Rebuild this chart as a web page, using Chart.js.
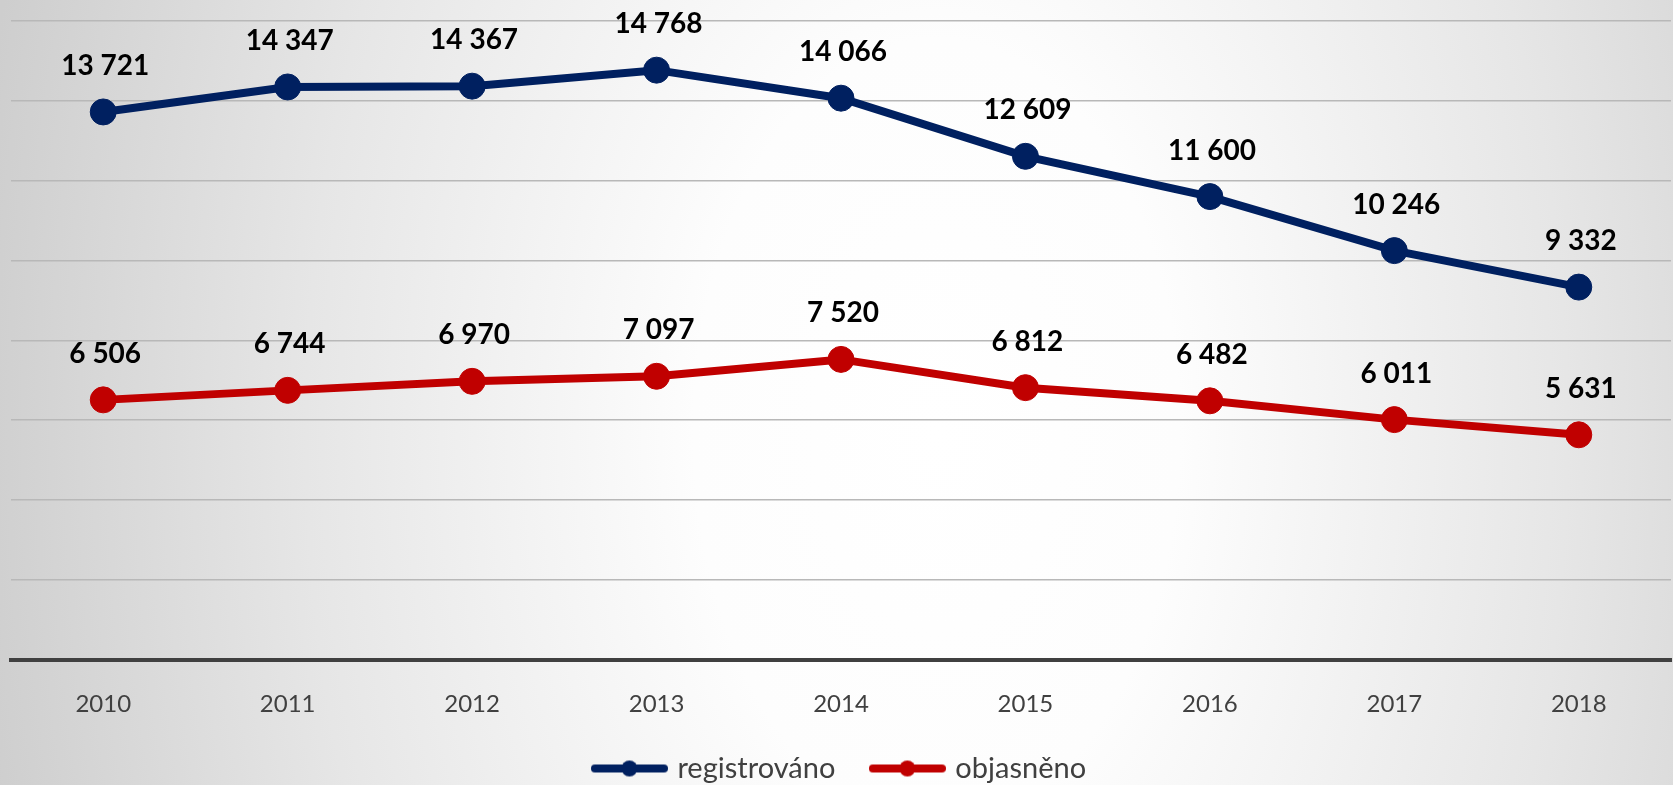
<!DOCTYPE html>
<html>
<head>
<meta charset="utf-8">
<script src="https://cdn.jsdelivr.net/npm/chart.js@4.4.0/dist/chart.umd.min.js"></script>
<style>
  html, body { margin: 0; padding: 0; overflow: hidden; }
  body {
    width: 1673px;
    height: 785px;
    background: radial-gradient(ellipse 58% 200% at 56% 55%, #ffffff 0%, #fdfdfd 25%, #e6e6e6 65%, #cecece 100%);
  }
  #obal { width: 1673px; height: 793px; }
</style>
</head>
<body>
<div id="obal"><canvas id="graf" width="1673" height="793"></canvas></div>
<script>
// data z grafu
const roky = ["2010", "2011", "2012", "2013", "2014", "2015", "2016", "2017", "2018"];
const registrovano = [13721, 14347, 14367, 14768, 14066, 12609, 11600, 10246, 9332];
const objasneno = [6506, 6744, 6970, 7097, 7520, 6812, 6482, 6011, 5631];
const nazvy = ["registrováno", "objasněno"];
const barvy = ["#002060", "#C00000"];

Chart.defaults.font.family = "Lato, 'DejaVu Sans', sans-serif";

// cislo s mezerou mezi tisici
const formatCislo = (v) => String(v).replace(/\B(?=(\d{3})+(?!\d))/g, " ");

// ikonka do legendy: cara s teckou uprostred
const ikonaLegendy = (barva) => {
  const c = document.createElement("canvas");
  c.width = 77;
  c.height = 18;
  const g = c.getContext("2d");
  g.strokeStyle = barva;
  g.fillStyle = barva;
  g.lineWidth = 8;
  g.lineCap = "round";
  g.beginPath();
  g.moveTo(4, 9);
  g.lineTo(73, 9);
  g.stroke();
  g.beginPath();
  g.arc(38.5, 9, 8, 0, Math.PI * 2);
  g.fill();
  return c;
};

// popisky hodnot nad body
const popisky = {
  id: "popisky",
  afterDatasetsDraw(chart) {
    const ctx = chart.ctx;
    ctx.save();
    ctx.font = "bold 28px Lato";
    ctx.fillStyle = "#000000";
    ctx.textAlign = "center";
    ctx.textBaseline = "middle";
    chart.data.datasets.forEach((ds, i) => {
      chart.getDatasetMeta(i).data.forEach((bod, j) => {
        ctx.fillText(formatCislo(ds.data[j]), bod.x + 2, bod.y - 46);
      });
    });
    ctx.restore();
  },
};

const radaDat = (data, i) => ({
  label: nazvy[i],
  data: data,
  borderColor: barvy[i],
  backgroundColor: barvy[i],
  borderWidth: 8,
  pointRadius: 13,
  pointBorderWidth: 1,
  pointBackgroundColor: barvy[i],
  pointBorderColor: barvy[i],
  tension: 0,
  clip: false,
});

new Chart(document.getElementById("graf"), {
  type: "line",
  data: {
    labels: roky,
    datasets: [radaDat(registrovano, 0), radaDat(objasneno, 1)],
  },
  options: {
    responsive: false,
    animation: false,
    layout: { autoPadding: false, padding: { top: 21, left: 11, right: 2, bottom: 0 } },
    plugins: {
      tooltip: { enabled: false },
      legend: {
        position: "bottom",
        labels: {
          usePointStyle: true,
          pointStyleWidth: 67,
          padding: 38.5,
          color: "#404040",
          font: { size: 29 },
          generateLabels: (chart) => {
            const polozky = Chart.defaults.plugins.legend.labels.generateLabels(chart);
            polozky.forEach((p, i) => {
              p.pointStyle = ikonaLegendy(barvy[i]);
            });
            return polozky;
          },
        },
      },
    },
    scales: {
      x: {
        offset: true,
        grid: { display: false },
        border: { display: true, color: "#404040", width: 4 },
        ticks: { color: "#404040", font: { size: 24 }, padding: 22 },
        afterFit: (scale) => {
          scale.height = 56;
        },
      },
      y: {
        min: 0,
        max: 16000,
        grid: { color: "#b8b8b8", lineWidth: 1.5, drawTicks: false },
        border: { display: false },
        ticks: { display: false, stepSize: 2000 },
      },
    },
  },
  plugins: [popisky],
});
</script>
</body>
</html>
